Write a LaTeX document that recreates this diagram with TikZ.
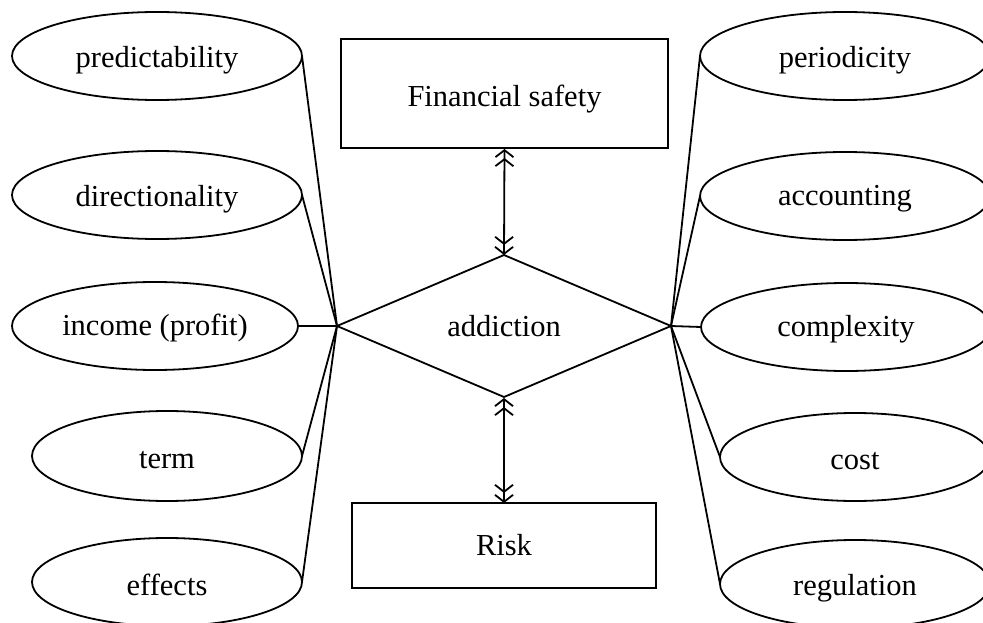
\documentclass[tikz,border=0pt]{standalone}
\usepackage{fontspec}
\setmainfont{Liberation Serif}
\usetikzlibrary{shapes.geometric,arrows.meta}
\newcommand{\lowtxt}[2]{\raisebox{-#1}[\height][\depth]{#2}}
\begin{document}
\begin{tikzpicture}[x=1pt,y=-1pt,
  every node/.style={font=\fontsize{30.5}{36}\selectfont, line width=1.8pt, inner sep=0pt, outer sep=0pt},
  ell/.style={draw, ellipse, minimum width=#1, minimum height=88pt},
  box/.style={draw, rectangle},
  link/.style={line width=1.8pt},
  dbl/.style={line width=1.8pt, {Straight Barb[length=7pt,width=18pt,sep=1pt] Straight Barb[length=7pt,width=18pt]}-{Straight Barb[length=7pt,width=18pt,sep=1pt] Straight Barb[length=7pt,width=18pt]}}
]
\useasboundingbox (0,0) rectangle (983,623);
\clip (0,0) rectangle (983,623);
% central
\node[draw, diamond, minimum width=334pt, minimum height=142pt] (dia) at (504,326) {addiction};
\node[box, minimum width=327pt, minimum height=109pt] (fs) at (504.5,93.5) {\lowtxt{6pt}{Financial safety}};
\node[box, minimum width=304pt, minimum height=85pt] (risk) at (504,545.5) {Risk};
% left
\node[ell=290pt] (l1) at (157,56) {\lowtxt{4pt}{predictability}};
\node[ell=290pt] (l2) at (157,195) {\lowtxt{4pt}{directionality}};
\node[ell=286pt] (l3) at (155,326) {\lowtxt{2pt}{income (profit)}};
\node[ell=270pt, minimum height=90pt] (l4) at (167,456) {\lowtxt{4pt}{term}};
\node[ell=270pt] (l5) at (167,582) {\lowtxt{3pt}{effects}};
% right
\node[ell=290pt] (r1) at (845,56) {\lowtxt{4pt}{periodicity}};
\node[ell=290pt] (r2) at (845,196) {\lowtxt{3pt}{accounting}};
\node[ell=290pt] (r3) at (846,327) {\lowtxt{2pt}{complexity}};
\node[ell=270pt] (r4) at (855,457) {\lowtxt{4pt}{cost}};
\node[ell=270pt] (r5) at (855,584) {\lowtxt{4pt}{regulation}};
% links
\foreach \n in {l1,l2,l3,l4,l5} \draw[link] (dia.west) -- (\n.east);
\foreach \n in {r1,r2,r3,r4,r5} \draw[link] (dia.east) -- (\n.west);
\draw[dbl] (fs.south) -- (dia.north);
\draw[dbl] (dia.south) -- (risk.north);
\end{tikzpicture}
\end{document}
